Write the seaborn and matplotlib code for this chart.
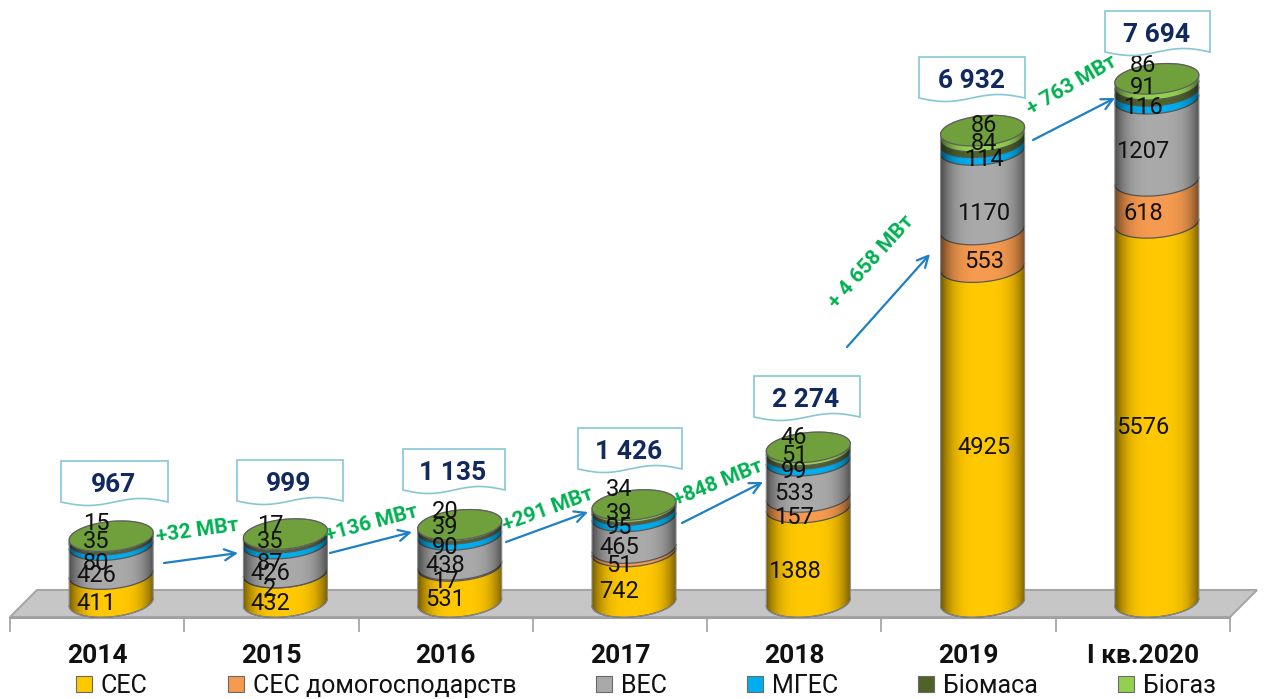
import numpy as np
import pandas as pd
import seaborn as sns
import matplotlib.pyplot as plt
from matplotlib.patches import Polygon
from matplotlib.transforms import Affine2D

# Installed capacity by source, MW
years = ["2014", "2015", "2016", "2017", "2018", "2019", "І кв.2020"]
totals = ["967", "999", "1 135", "1 426", "2 274", "6 932", "7 694"]
ses = [411, 432, 531, 742, 1388, 4925, 5576]
ses_home = [0, 2, 17, 51, 157, 553, 618]
ves = [426, 426, 438, 465, 533, 1170, 1207]
mges = [80, 87, 90, 95, 99, 114, 116]
biomass = [35, 35, 39, 39, 51, 84, 91]
biogas = [15, 17, 20, 34, 46, 86, 86]
increments = ["+32 МВт", "+136 МВт", "+291 МВт", "+848 МВт", "+ 4 658 МВт", "+ 763 МВт"]

series_names = ["СЕС", "СЕС домогосподарств", "ВЕС", "МГЕС", "Біомаса", "Біогаз"]
series_values = [ses, ses_home, ves, mges, biomass, biogas]
series_colors = ["#ffc800", "#f59a4e", "#a9a9a9", "#00aeef", "#4f6228", "#92d050"]

W, H = 1267, 699
BAR_WIDTH = 0.482
BAR_SHIFT = 0.0803       # 3D depth moves the cylinders right of the ticks
ELLIPSE_B = 218          # half height of a cylinder ring, MW
SHEAR = 230              # tilt of the rings, MW per category

sns.set_theme(style="white")
plt.rcParams["font.family"] = ["Roboto", "DejaVu Sans"]

fig = plt.figure(figsize=(W / 100, H / 100), dpi=100)
ax = fig.add_axes([10 / W, (H - 618) / H, 1220 / W, 618 / H])
ax.patch.set_alpha(0)

# reference image pixels -> display
px = Affine2D().scale(1, -1).translate(0, H)


def bar_transform(i):
    m = np.array([[1, 0, BAR_SHIFT], [SHEAR, 1, -SHEAR * i], [0, 0, 1]], dtype=float)
    return Affine2D(m) + ax.transData


def ring(i, level, start=0.0, stop=2 * np.pi):
    t = np.linspace(start, stop, 80)
    return np.column_stack([i + BAR_WIDTH / 2 * np.cos(t), level + ELLIPSE_B * np.sin(t)])


# floor of the 3D chart
ax.add_patch(Polygon([(10, 617), (37, 590), (1257, 590), (1230, 617)], closed=True, transform=px,
                     facecolor="#c6c6c6", edgecolor="#a6a6a6", lw=1.5, zorder=1, clip_on=False))

bottoms = np.zeros(len(years))
for k, (name, vals, color) in enumerate(zip(series_names, series_values, series_colors)):
    df = pd.DataFrame({"year": years, "value": vals})
    sns.barplot(data=df, x="year", y="value", color=color, saturation=1, width=BAR_WIDTH,
                bottom=bottoms, errorbar=None, label=name, ax=ax, zorder=3 + k,
                edgecolor="none", linewidth=0)
    for i, bar in enumerate(ax.containers[-1].patches):
        bar.set_transform(bar_transform(i))
        bar.set_clip_on(False)
        if vals[i] == 0:
            continue
        ax.add_patch(Polygon(ring(i, bottoms[i]), closed=True, facecolor=color, edgecolor="none",
                             transform=bar_transform(i), zorder=3 + k, clip_on=False))
        arc = ring(i, bottoms[i], np.pi, 2 * np.pi)
        ax.plot(arc[:, 0], arc[:, 1], color="#5a5a5a", lw=0.9, transform=bar_transform(i),
                zorder=3 + k + 0.5, clip_on=False)
    bottoms = bottoms + np.array(vals)

# cylinder shading and caps
tops = bottoms.copy()
u = np.linspace(-1, 1, 120)
shade = np.zeros((1, len(u), 4))
shade[0, :, 3] = 0.55 * np.abs(u) ** 3.5
for i, top in enumerate(tops):
    low = ring(i, 0, np.pi, 2 * np.pi)
    up = ring(i, top, 0, np.pi)
    body = np.vstack([low, [[i + BAR_WIDTH / 2, top]], up])
    clip = Polygon(body, closed=True, transform=bar_transform(i), facecolor="none", edgecolor="none")
    ax.add_patch(clip)
    im = ax.imshow(shade, aspect="auto", zorder=10, interpolation="bilinear",
                   extent=(i - BAR_WIDTH / 2, i + BAR_WIDTH / 2, -600, top + 600),
                   transform=bar_transform(i))
    im.set_clip_path(clip)
    ax.add_patch(Polygon(ring(i, top), closed=True, facecolor="#6fa03c", edgecolor="#5f5f5f", lw=0.9,
                         transform=bar_transform(i), zorder=11, clip_on=False))
    outline = Polygon(body, closed=True, fill=False, edgecolor="#8a8a8a", lw=0.8,
                      transform=bar_transform(i), zorder=10.5, clip_on=False)
    ax.add_patch(outline)

# value labels, y in reference pixels (dragged by hand in the original)
label_y = [
    [604, 603, 599, 592, 571, 448, 427],
    [None, 590, 582, 565, 518, 262, 213],
    [575, 573, 565, 547, 493, 213, 152],
    [563, 563, 547, 528, 472, 160, 107],
    [542, 542, 528, 513, 455, 143, 87],
    [523, 525, 511, 490, 437, 125, 66],
]
label_x = [96, 270, 445, 619, 794, 984, 1143]
for k, vals in enumerate(series_values):
    for i, v in enumerate(vals):
        if label_y[k][i] is None:
            continue
        ax.text(label_x[i], label_y[k][i], str(v), transform=px, ha="center", va="center",
                fontsize=17, color="#111111", zorder=12, clip_on=False)

# callouts with the yearly totals
box_x = [(61, 168), (237, 343), (403, 505), (578, 682), (754, 860), (919, 1025), (1105, 1210)]
box_top = [461, 460, 449, 428, 376, 57, 11]
for (x0, x1), y0, total in zip(box_x, box_top, totals):
    t = np.linspace(0, 1, 40)
    wave = y0 + 41 - 3.5 * np.sin(2 * np.pi * t)
    pts = [(x0, y0), (x1, y0)] + list(zip(x1 + (x0 - x1) * t, wave))
    ax.add_patch(Polygon(pts, closed=True, transform=px, facecolor="white", edgecolor="#86c6d8",
                         lw=1.2, zorder=13, clip_on=False))
    ax.text((x0 + x1) / 2 - 1, y0 + 24, total, transform=px, ha="center", va="center", fontsize=19,
            fontweight="bold", color="#10295f", zorder=14, clip_on=False)

# growth arrows and labels
arrows = [((164, 563), (238, 553)), ((330, 553), (412, 532)), ((506, 542), (588, 512)),
          ((682, 523), (763, 482)), ((847, 347), (930, 254)), ((1033, 140), (1115, 98))]
inc_pos = [(197, 531, 8), (372, 523, 15), (548, 510, 20), (718, 483, 22), (871, 262, 48), (1072, 85, 30)]
for (a, b), (x, y, rot), txt in zip(arrows, inc_pos, increments):
    ax.annotate("", xy=b, xytext=a, xycoords=px, textcoords=px, zorder=15, annotation_clip=False,
                arrowprops=dict(arrowstyle="->", color="#1f7fc4", lw=1.6, mutation_scale=20,
                                shrinkA=0, shrinkB=0))
    ax.text(x, y, txt, transform=px, ha="center", va="center", rotation=rot, rotation_mode="anchor",
            fontsize=15, fontweight="bold", color="#00b050", zorder=15, clip_on=False)

ax.set_xlim(-0.5, 6.5)
ax.set_ylim(-235, 8853)
ax.set_xlabel("")
ax.set_ylabel("")
ax.set_yticks([])
ax.set_xticks(range(len(years)))
ax.set_xticklabels(years, fontsize=19, fontweight="bold", color="#111111")
ax.set_xticks(np.arange(-0.5, 7), minor=True)
ax.tick_params(axis="x", which="major", length=0, pad=19)
ax.tick_params(axis="x", which="minor", length=10, width=1.2, color="#a0a0a0", bottom=True)
sns.despine(ax=ax, left=True)
ax.spines["bottom"].set_color("#a0a0a0")
ax.spines["bottom"].set_linewidth(1.5)

leg = ax.legend(loc="center", bbox_to_anchor=(646 / W, (H - 686) / H), bbox_transform=fig.transFigure,
                ncol=6, frameon=False, fontsize=18, handlelength=0.64, handleheight=0.64,
                handletextpad=0.36, columnspacing=3.2, labelcolor="#111111")
for handle in leg.get_patches():
    handle.set_edgecolor("#6a6a6a")
    handle.set_linewidth(0.8)

fig.savefig("out.png", dpi=100)
